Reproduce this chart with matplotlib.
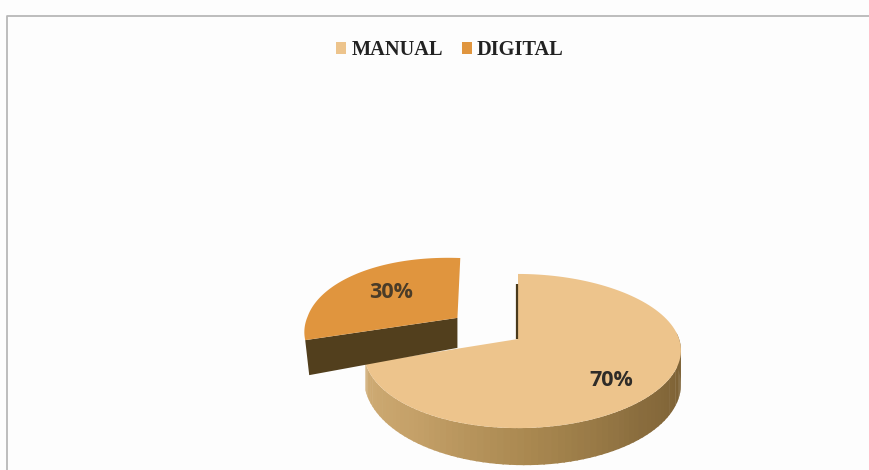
import numpy as np
import matplotlib.pyplot as plt
from matplotlib.patches import Polygon, Patch
from matplotlib.colors import LinearSegmentedColormap

labels = ['MANUAL', 'DIGITAL']
values = [70, 30]
pct_labels = ['70%', '30%']
face_colors = ['#edc48c', '#e0953e']

# perspective of the tilted disc, in pixels of the 870x470 picture
CX, CY = 518, 339
SX, SY, TILT = 156.6, 75.2, 0.156
EXPLODE = 0.5


def project(u, v):
    s = 1 + TILT * v
    return CX + SX * u / s, CY - SY * v / s


def depth(u, v):
    return 29 + 4 * u - 8 * v


def rim(a1, a2, n=120):
    # angles are clockwise from 12 o'clock
    t = np.radians(np.linspace(a1, a2, n))
    return np.sin(t), np.cos(t)


def big_rim(u, v):
    # the original disc bulges a little to the right
    x, y = project(u, v)
    return x + 4.5 * u ** 2, y


fig = plt.figure(figsize=(8.7, 4.7), dpi=100, facecolor='#fdfdfd')
ax = fig.add_axes([0, 0, 1, 1])
ax.set_xlim(0, 870)
ax.set_ylim(470, 0)
ax.axis('off')

# scanned frame, top and left only
ax.plot([7.5, 7.5, 870], [470, 15.5, 15.5], color='#b8b8b8', lw=1.3)

split = values[0] / sum(values) * 360

# side of the big slice, shaded along the rim
side_cmap = LinearSegmentedColormap.from_list(
    'side', ['#775c30', '#7a5f33', '#8a6d3e', '#a98850', '#c4a068', '#d0ad76'])
edges = np.linspace(85, split, 80)
for i in range(len(edges) - 1):
    u, v = rim(edges[i], edges[i + 1] + 0.5, 4)
    x, y = big_rim(u, v)
    y2 = y + depth(u, v)
    pts = np.column_stack([np.r_[x, x[::-1]], np.r_[y, y2[::-1]]])
    col = side_cmap((edges[i] - 60) / (split - 60))
    ax.add_patch(Polygon(pts, closed=True, fc=col, ec='none'))

# top of the big slice
u, v = rim(0, split)
x, y = big_rim(u, v)
ax.add_patch(Polygon(np.column_stack([np.r_[CX, x], np.r_[CY, y]]), closed=True,
                     fc=face_colors[0], ec='none'))

# thin wall showing at the notch
x, y = project(np.array([0, 0]), np.array([0.82, 0]))
ax.plot(x - 0.5, y, color='#4a3a1c', lw=1.6, solid_capstyle='butt')

# exploded small slice
mid = np.radians(split + (360 - split) / 2)
u0, v0 = EXPLODE * np.sin(mid), EXPLODE * np.cos(mid)

ax_x, ax_y = project(np.array([u0]), np.array([v0]))
ux, vx = rim(split, split)
lx, ly = project(u0 + ux[:1], v0 + vx[:1])
front = [(ax_x[0], ax_y[0]), (lx[0], ly[0]),
         (lx[0] + 4, ly[0] + 35),
         (ax_x[0], ax_y[0] + 30)]
ax.add_patch(Polygon(front, closed=True, fc='#523f1d', ec='none'))

u, v = rim(split, 360)
x, y = project(u0 + u, v0 + v)
x = x - 5 * np.clip(v, 0, None)
y = y - 3 * np.sin(np.radians(np.linspace(0, 180, len(y))))
ax.add_patch(Polygon(np.column_stack([np.r_[ax_x, x], np.r_[ax_y, y]]), closed=True,
                     fc=face_colors[1], ec='none'))

# percent labels
ax.text(611, 380, pct_labels[0], family='Open Sans', weight='bold', fontsize=15.5,
        color='#2f2c28', ha='center', va='center')
ax.text(391, 292, pct_labels[1], family='Open Sans', weight='bold', fontsize=15.5,
        color='#4a3c28', ha='center', va='center')

handles = [Patch(fc=c, ec='none') for c in face_colors]
fig.legend(handles, labels, loc='center', bbox_to_anchor=(450 / 870, 1 - 50 / 470), ncol=2,
           frameon=False, prop={'family': 'Liberation Serif', 'weight': 'bold', 'size': 14.7},
           handlelength=0.5, handleheight=0.5, handletextpad=0.25, columnspacing=0.92,
           labelcolor='#222222')

fig.savefig('out.png', dpi=100, facecolor=fig.get_facecolor())
